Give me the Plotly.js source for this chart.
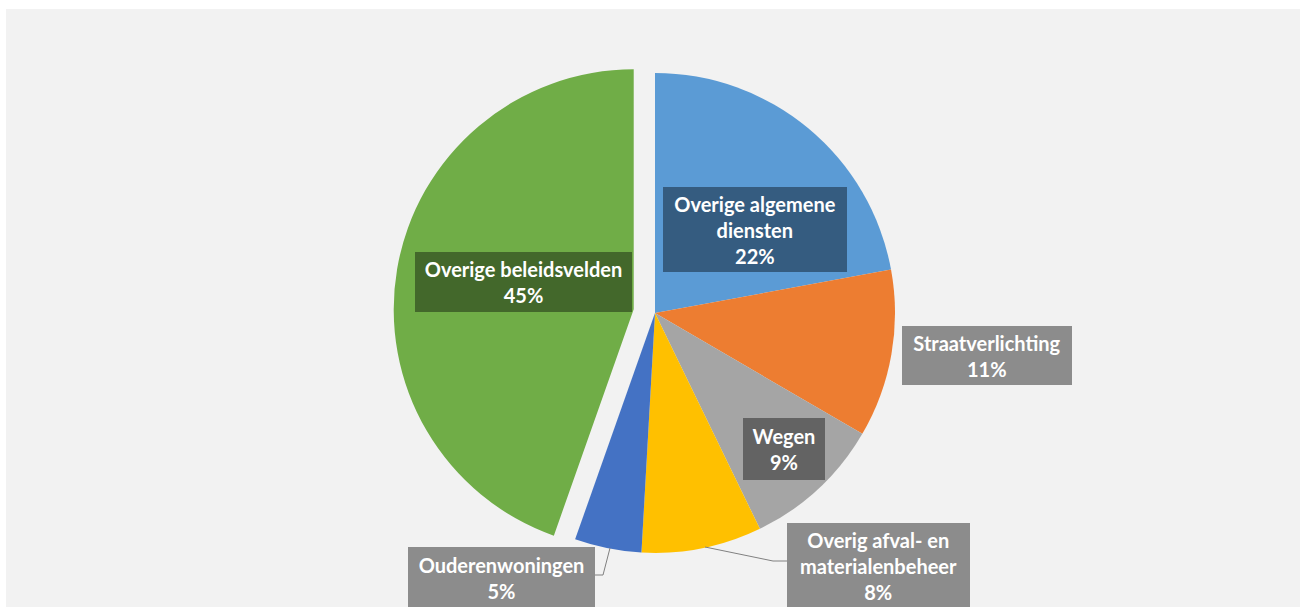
<!DOCTYPE html>
<html>
<head>
<meta charset="utf-8">
<script src="https://cdn.plot.ly/plotly-3.0.1.min.js"></script>
<style>
  html, body { margin: 0; padding: 0; background: #ffffff; }
  #chart { position: absolute; left: 6px; top: 9px; width: 1294px; height: 598px; }
</style>
</head>
<body>
<div id="chart"></div>
<script>
// slices, clockwise from 12 o'clock
let labels = ['Overige algemene diensten', 'Straatverlichting', 'Wegen',
              'Overig afval- en materialenbeheer', 'Ouderenwoningen', 'Overige beleidsvelden'];
let values = [22.1, 11.3, 9.4, 8.1, 4.5, 44.6];
let pctText = ['22%', '11%', '9%', '8%', '5%', '45%'];
// how the label is broken over lines in the picture
let labelLines = [['Overige algemene', 'diensten'], ['Straatverlichting'], ['Wegen'],
                  ['Overig afval- en', 'materialenbeheer'], ['Ouderenwoningen'], ['Overige beleidsvelden']];
let colors = ['#5B9BD5', '#ED7D31', '#A5A5A5', '#FFC000', '#4472C4', '#70AD47'];
let pulls = [0, 0, 0, 0, 0, 0.09];

// div is offset inside the page, so convert page pixels to paper fractions
const W = 1294, H = 598, OX = 6, OY = 9;
function px(x){ return (x - OX) / W; }
function py(y){ return 1 - (y - OY) / H; }

// pie placement (page px)
let cx = 655, cy = 313, r = 240;
let half = r * (1 + Math.max(...pulls));

// label boxes: center x, center y, width, height, fill
let boxes = [
    [755, 229, 184, 85, '#355C80'],
    [987, 356, 170, 59, '#8C8C8C'],
    [784, 449, 82, 62, '#636363'],
    [878, 566, 183, 86, '#8C8C8C'],
    [501, 578, 187, 62, '#8C8C8C'],
    [523, 282, 217, 60, '#43682B']
];

let annotations = [];
for (let i = 0; i < labels.length; i++){
    let b = boxes[i];
    annotations.push({
        xref: 'paper', yref: 'paper',
        x: px(b[0]), y: py(b[1]),
        xanchor: 'center', yanchor: 'middle',
        width: b[2], height: b[3],
        bgcolor: b[4], borderpad: 0, borderwidth: 0,
        showarrow: false,
        text: '<b>' + labelLines[i].join('<br>') + '<br>' + pctText[i] + '</b>',
        font: {family: 'Lato, "DejaVu Sans", sans-serif', size: 20, color: '#ffffff'}
    });
}

// leader lines (page px)
let leaders = [
    [[595, 575], [603, 575], [610, 548]],
    [[705, 547], [773, 561], [787, 561]]
];
let shapes = [];
leaders.forEach(function(pts){
    for (let j = 0; j < pts.length - 1; j++){
        shapes.push({
            type: 'line', xref: 'paper', yref: 'paper',
            x0: px(pts[j][0]), y0: py(pts[j][1]),
            x1: px(pts[j+1][0]), y1: py(pts[j+1][1]),
            line: {color: '#808080', width: 1}
        });
    }
});

var pie = {
    type: 'pie',
    labels: labels,
    values: values,
    sort: false,
    direction: 'clockwise',
    rotation: 0,
    pull: pulls,
    marker: {colors: colors, line: {width: 0}},
    textinfo: 'none',
    hoverinfo: 'label+percent',
    domain: {
        x: [px(cx - half), px(cx + half)],
        y: [py(cy + half), py(cy - half)]
    }
};

var layout = {
    width: W,
    height: H,
    paper_bgcolor: '#F2F2F2',
    showlegend: false,
    margin: {l: 0, r: 0, t: 0, b: 0, pad: 0},
    annotations: annotations,
    shapes: shapes
};

Plotly.newPlot('chart', [pie], layout, {displayModeBar: false, staticPlot: true});
</script>
</body>
</html>
